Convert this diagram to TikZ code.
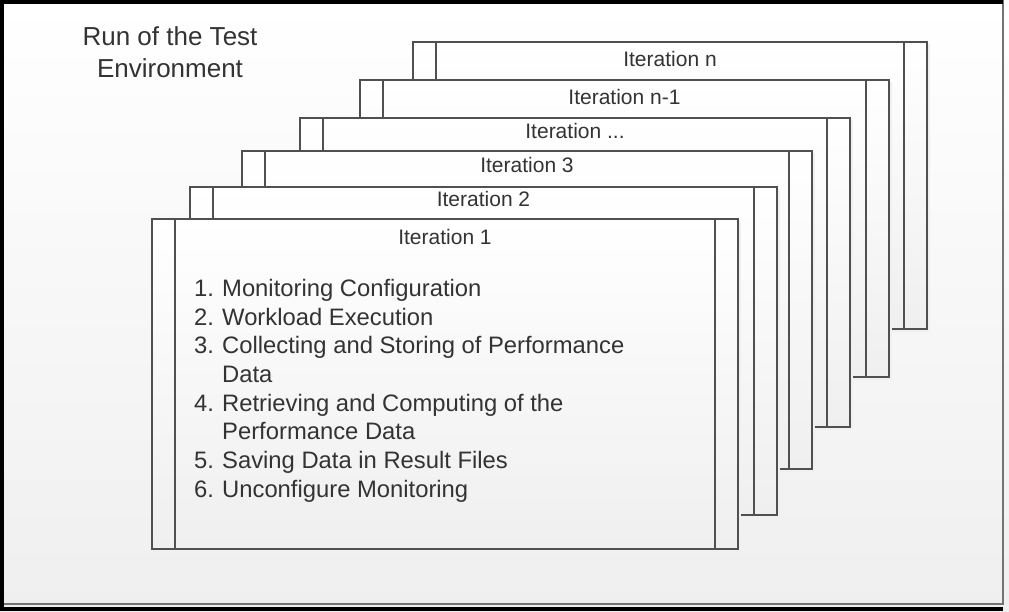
\documentclass[tikz,border=0pt]{standalone}
\usepackage{fontspec}
\setmainfont{Liberation Sans}
\definecolor{boxline}{RGB}{80,80,80}
\definecolor{bgbottom}{RGB}{239,239,239}
\newcommand{\stepnum}[1]{\makebox[28pt][l]{#1}}

\begin{document}
\begin{tikzpicture}[
  x=1pt, y=-1pt,
  iterbox/.style={draw=boxline, line width=1.6pt, top color=white, bottom color=bgbottom},
  iterline/.style={draw=boxline, line width=1.6pt},
  iterlabel/.style={anchor=base, inner sep=0pt, text=black!80, font=\fontsize{21}{25}\selectfont},
]
  \useasboundingbox (0,0) rectangle (1009,612);
  % background and frame
  \shade[top color=white, bottom color=bgbottom] (0,0) rectangle (1009,612);
  \draw[black!55, line width=1.5pt] (1003,0) -- (1003,604) -- (4,604);
  \draw[black, line width=4pt] (1003,2) -- (2,2) -- (2,609) -- (1003,609);

  \node[anchor=north, align=center, inner sep=0pt, text=black!80,
        font=\fontsize{26}{32}\selectfont] (title) at (170,26)
       {Run of the Test\\Environment};

  % the stack of iterations, back to front
  \foreach \name/\l/\t/\r/\b/\ty/\lab in {
      itern/413/42/927/329/67/{Iteration n},
      iternm/360/80/889/377/105/{Iteration n-1},
      iterdots/300/118/850/427/139/{Iteration ...},
      iterthree/242/151/812/469/173/{Iteration 3},
      itertwo/190/187/777/515/207/{Iteration 2},
      iterone/152/219/738/549/245/{Iteration 1}} {
    \fill[black!6] (\l+2.5,\t+2.5) rectangle (\r+2.5,\b+2.5);
    \draw[iterbox] (\l,\t) rectangle (\r,\b);
    \draw[iterline] (\l+23,\t) -- (\l+23,\b) (\r-23,\t) -- (\r-23,\b);
    \node[iterlabel] (\name) at ({(\l+\r)/2},\ty) {\lab};
  }

  \node[anchor=north west, align=left, inner sep=0pt, text=black!80,
        font=\fontsize{23.8}{28.7}\selectfont] (steps) at (194,279)
       {\stepnum{1.}Monitoring Configuration\\
        \stepnum{2.}Workload Execution\\
        \stepnum{3.}Collecting and Storing of Performance\\
        \stepnum{}Data\\
        \stepnum{4.}Retrieving and Computing of the\\
        \stepnum{}Performance Data\\
        \stepnum{5.}Saving Data in Result Files\\
        \stepnum{6.}Unconfigure Monitoring};
\end{tikzpicture}
\end{document}
